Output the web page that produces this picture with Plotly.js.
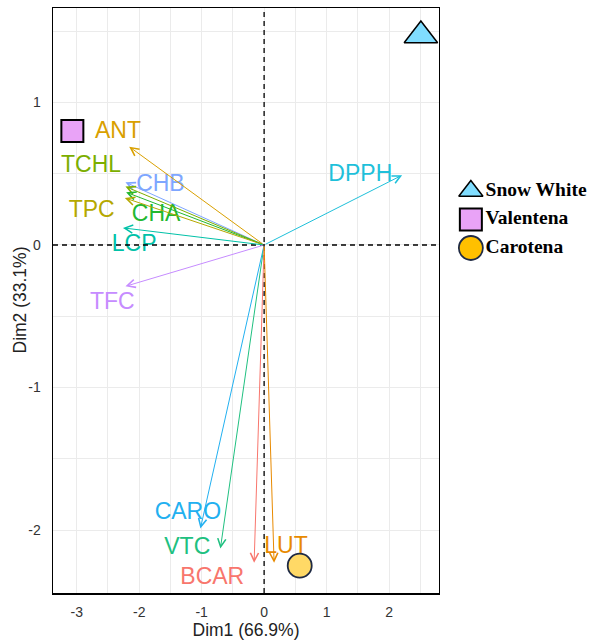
<!DOCTYPE html>
<html>
<head>
<meta charset="utf-8">
<script src="https://cdn.plot.ly/plotly-3.0.1.min.js"></script>
<style>html,body{margin:0;padding:0;background:#fff;}#chart{width:590px;height:644px;}</style>
</head>
<body>
<div id="chart"></div>
<script>
// Variable loadings (arrow tips)
const variables = ['ANT','CHB','TCHL','CHA','TPC','LCP','TFC','DPPH','CARO','VTC','BCAR','LUT'];
const dim1 = [-2.16, -2.22, -2.22, -2.21, -2.23, -2.26, -2.22, 2.21, -1.02, -0.70, -0.16, 0.16];
const dim2 = [0.69, 0.44, 0.41, 0.37, 0.33, 0.12, -0.29, 0.49, -1.99, -2.13, -2.23, -2.23];
// Label anchor points (repelled positions)
const labelDim1 = [-2.34, -1.66, -2.77, -1.73, -2.76, -2.08, -2.43, 1.54, -1.22, -1.23, -0.83, 0.35];
const labelDim2 = [0.79, 0.42, 0.55, 0.21, 0.24, 0.00, -0.41, 0.49, -1.88, -2.13, -2.34, -2.12];
const varColors = ['#D9A000','#7EA6FF','#7CAE00','#22B830','#B5A800','#00C1A8','#C68CFF','#1EC0DA','#22B0F0','#20C080','#F8766D','#E88A00'];

// Individuals
const cultivars = ['Snow White','Valentena','Carotena'];
const indDim1 = [2.51, -3.07, 0.57];
const indDim2 = [1.47, 0.80, -2.25];
const indSymbols = ['triangle-up','square','circle'];
const indColors = ['#80DDFF','#E9A3F7','#FFD966'];
const legendColors = ['#80DDFF','#E9A3F7','#FFC000'];
const indEdge = ['#000000','#000000','#1F2A44'];

const xTicks = [-3,-2,-1,0,1,2];
const yTicks = [-2,-1,0,1];

const labelFont = 'Liberation Sans, Arial, sans-serif';

const traces = [];
// variable labels
traces.push({
  type:'scatter', mode:'text', x: labelDim1, y: labelDim2, text: variables,
  textposition:'middle center', cliponaxis:false, hoverinfo:'skip',
  textfont:{family: labelFont, size: 23, color: varColors}, xaxis:'x', yaxis:'y'
});
// individuals
traces.push({
  type:'scatter', mode:'markers', x: indDim1, y: indDim2, text: cultivars, cliponaxis:false,
  marker:{symbol: indSymbols, size:[29, 22, 24], color: indColors, opacity:1,
          line:{color: indEdge, width:[1.5,2,1.8]}},
  xaxis:'x', yaxis:'y'
});
// custom legend
const legY = cultivars.map((c,i)=> cultivars.length - i);
traces.push({
  type:'scatter', mode:'markers', x: cultivars.map(()=>0.15), y: legY, cliponaxis:false,
  marker:{symbol: indSymbols, size:[21, 22, 24], color: legendColors, opacity:1,
          line:{color: indEdge, width:[1.5,2,1.8]}},
  xaxis:'x2', yaxis:'y2', hoverinfo:'skip'
});
traces.push({
  type:'scatter', mode:'text', x: cultivars.map(()=>0.255), y: legY, text: cultivars, cliponaxis:false,
  textposition:'middle right',
  textfont:{family:'Liberation Serif, Times New Roman, serif', size:19.5, color:'#000', weight:'bold'},
  xaxis:'x2', yaxis:'y2', hoverinfo:'skip'
});

const annotations = variables.map((v,i)=>({
  x: dim1[i], y: dim2[i], ax: 0, ay: 0, xref:'x', yref:'y', axref:'x', ayref:'y',
  text:'', showarrow:true, arrowhead:5, arrowsize:1.6, arrowwidth:1, arrowcolor: varColors[i]
}));
// y-axis title placed as annotation
annotations.push({
  xref:'paper', yref:'y domain', x:-0.0633, y:0.5, xanchor:'center', yanchor:'middle',
  text:'Dim2 (33.1%)', textangle:-90, showarrow:false,
  font:{family:labelFont, size:17.5, color:'#222'}
});

const shapes = [
  {type:'line', xref:'x', yref:'y domain', x0:0, x1:0, y0:0, y1:1, line:{color:'#000', width:1.3, dash:'5px,4px'}},
  {type:'line', xref:'x domain', yref:'y', x0:0, x1:1, y0:0, y1:0, line:{color:'#000', width:1.3, dash:'5px,4px'}}
];

const gridColor = '#EBEBEB';
const layout = {
  width:590, height:644,
  margin:{l:53, r:0, t:8, b:51, pad:0},
  paper_bgcolor:'#fff', plot_bgcolor:'#fff',
  showlegend:false,
  xaxis:{
    domain:[0, 0.7188], range:[-3.38, 2.8], tickmode:'array', tickvals:xTicks, ticktext:xTicks.map(String),
    showgrid:true, gridcolor:gridColor, gridwidth:1, zeroline:false,
    minor:{tickmode:'linear', tick0:0, dtick:0.5, showgrid:true, gridcolor:gridColor, gridwidth:1, ticks:''},
    showline:true, mirror:true, linecolor:'#000', linewidth:1.5, ticks:'',
    ticklabelstandoff:6,
    tickfont:{family:labelFont, size:14, color:'#333'},
    title:{text:'Dim1 (66.9%)', font:{family:labelFont, size:17.5, color:'#222'}, standoff:4},
    anchor:'y'
  },
  yaxis:{
    domain:[0,1], range:[-2.442, 1.663], tickmode:'array', tickvals:yTicks, ticktext:yTicks.map(String),
    showgrid:true, gridcolor:gridColor, gridwidth:1, zeroline:false,
    minor:{tickmode:'linear', tick0:0, dtick:0.5, showgrid:true, gridcolor:gridColor, gridwidth:1, ticks:''},
    showline:true, mirror:true, linecolor:'#000', linewidth:1.5, ticks:'',
    ticklabelstandoff:8,
    tickfont:{family:labelFont, size:14, color:'#333'},
    anchor:'x'
  },
  xaxis2:{domain:[0.739, 1], range:[0,1], visible:false, anchor:'y2', fixedrange:true},
  yaxis2:{domain:[0.5654, 0.7115], range:[0.5, 3.5], visible:false, anchor:'x2', fixedrange:true},
  annotations: annotations,
  shapes: shapes
};

Plotly.newPlot('chart', traces, layout, {displayModeBar:false, staticPlot:true});
</script>
</body>
</html>
